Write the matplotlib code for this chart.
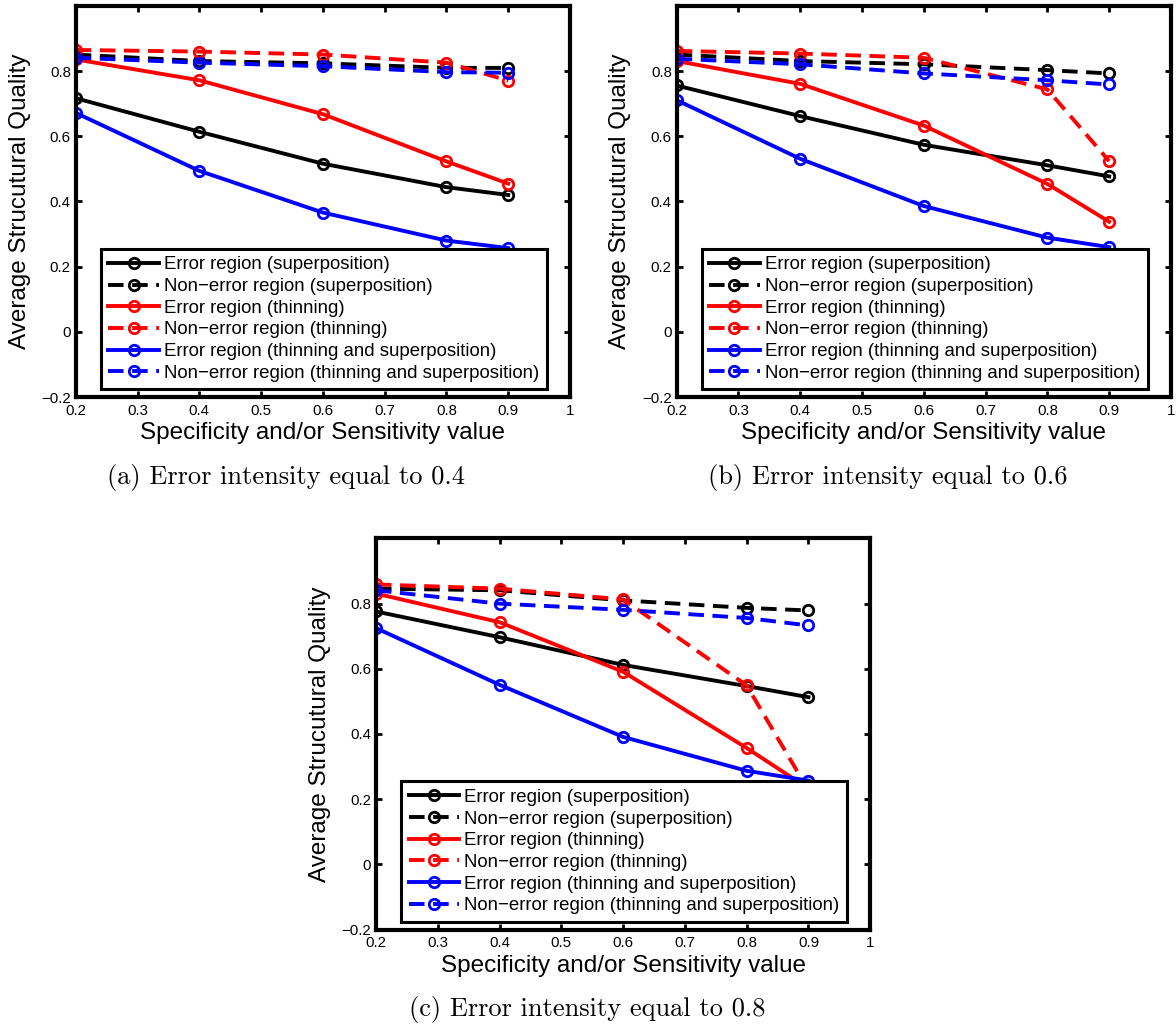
import matplotlib
matplotlib.use("Agg")
import matplotlib.pyplot as plt

plt.rcParams['font.family'] = ['Liberation Sans', 'DejaVu Sans']

x_vals = [0.2, 0.4, 0.6, 0.8, 0.9]

# (a) error intensity 0.4
a_err_sup = [0.717, 0.614, 0.516, 0.444, 0.420]
a_non_sup = [0.851, 0.831, 0.824, 0.810, 0.810]
a_err_thin = [0.836, 0.772, 0.668, 0.523, 0.455]
a_non_thin = [0.865, 0.860, 0.851, 0.826, 0.771]
a_err_both = [0.672, 0.494, 0.366, 0.280, 0.257]
a_non_both = [0.841, 0.826, 0.815, 0.797, 0.795]

# (b) error intensity 0.6
b_err_sup = [0.756, 0.662, 0.574, 0.511, 0.477]
b_non_sup = [0.851, 0.831, 0.821, 0.803, 0.793]
b_err_thin = [0.831, 0.761, 0.633, 0.454, 0.338]
b_non_thin = [0.862, 0.854, 0.841, 0.744, 0.524]
b_err_both = [0.711, 0.531, 0.386, 0.289, 0.260]
b_non_both = [0.838, 0.821, 0.793, 0.772, 0.759]

# (c) error intensity 0.8
c_err_sup = [0.776, 0.697, 0.612, 0.547, 0.513]
c_non_sup = [0.846, 0.841, 0.810, 0.787, 0.779]
c_err_thin = [0.831, 0.743, 0.591, 0.357, 0.233]
c_non_thin = [0.859, 0.846, 0.813, 0.549, 0.227]
c_err_both = [0.725, 0.551, 0.391, 0.287, 0.257]
c_non_both = [0.841, 0.800, 0.781, 0.756, 0.733]

labels = ["Error region (superposition)",
          "Non\u2212error region (superposition)",
          "Error region (thinning)",
          "Non\u2212error region (thinning)",
          "Error region (thinning and superposition)",
          "Non\u2212error region (thinning and superposition)"]
colors = ['k', 'k', '#ff0000', '#ff0000', '#0000ff', '#0000ff']
dashed = [False, True, False, True, False, True]

x_ticks = [0.2, 0.3, 0.4, 0.5, 0.6, 0.7, 0.8, 0.9, 1.0]
x_ticklabels = ['0.2', '0.3', '0.4', '0.5', '0.6', '0.7', '0.8', '0.9', '1']
y_ticks = [-0.2, 0, 0.2, 0.4, 0.6, 0.8]
y_ticklabels = ['\u22120.2', '0', '0.2', '0.4', '0.6', '0.8']

captions = ["(a) Error intensity equal to 0.4",
            "(b) Error intensity equal to 0.6",
            "(c) Error intensity equal to 0.8"]


def draw_panel(ax, series):
    for ys, lab, col, dsh in zip(series, labels, colors, dashed):
        ls = (0, (4.0, 2.2)) if dsh else '-'
        ax.plot(x_vals, ys, color=col, linestyle=ls, linewidth=2.8,
                marker='o', markersize=7.5, markeredgewidth=2.0,
                markerfacecolor='none', markeredgecolor=col, label=lab)
    ax.set_xlim(0.2, 1.0)
    ax.set_ylim(-0.2, 1.0)
    ax.set_xticks(x_ticks)
    ax.set_xticklabels(x_ticklabels)
    ax.set_yticks(y_ticks)
    ax.set_yticklabels(y_ticklabels)
    ax.tick_params(direction='in', top=True, right=True, length=4.5,
                   width=2, labelsize=10.8)
    ax.tick_params(axis='x', pad=5)
    ax.tick_params(axis='y', pad=3.5)
    for sp in ax.spines.values():
        sp.set_linewidth(3)
    ax.set_xlabel("Specificity and/or Sensitivity value", fontsize=17.5,
                  va='center')
    ax.xaxis.set_label_coords(0.5, -0.0926)
    ax.set_ylabel("Average Strucutural Quality", fontsize=17.5, va='center')
    ax.yaxis.set_label_coords(-0.1137, 0.5)
    leg = ax.legend(loc='lower left', bbox_to_anchor=(0.051, 0.02),
                    borderaxespad=0, fontsize=13.4, handlelength=2.7,
                    handletextpad=0.3, labelspacing=0.25, borderpad=0.4,
                    fancybox=False, framealpha=1, numpoints=1)
    leg.get_frame().set_edgecolor('k')
    leg.get_frame().set_linewidth(2.2)


fig = plt.figure(figsize=(11.76, 10.28), dpi=100)
ax_a = fig.add_axes([0.0644, 0.6138, 0.4203, 0.3804])
ax_b = fig.add_axes([0.5754, 0.6138, 0.4203, 0.3804])
ax_c = fig.add_axes([0.3197, 0.0958, 0.4203, 0.3804])

draw_panel(ax_a, [a_err_sup, a_non_sup, a_err_thin, a_non_thin, a_err_both, a_non_both])
draw_panel(ax_b, [b_err_sup, b_non_sup, b_err_thin, b_non_thin, b_err_both, b_non_both])
draw_panel(ax_c, [c_err_sup, c_non_sup, c_err_thin, c_non_thin, c_err_both, c_non_both])

fig.text(0.2432, 0.5292, captions[0], fontsize=19, family='cmr10',
         ha='center', va='baseline')
fig.text(0.7551, 0.5292, captions[1], fontsize=19, family='cmr10',
         ha='center', va='baseline')
fig.text(0.4991, 1 - 1016 / 1028, captions[2], fontsize=19, family='cmr10',
         ha='center', va='baseline')

fig.savefig('out.png', dpi=100)
